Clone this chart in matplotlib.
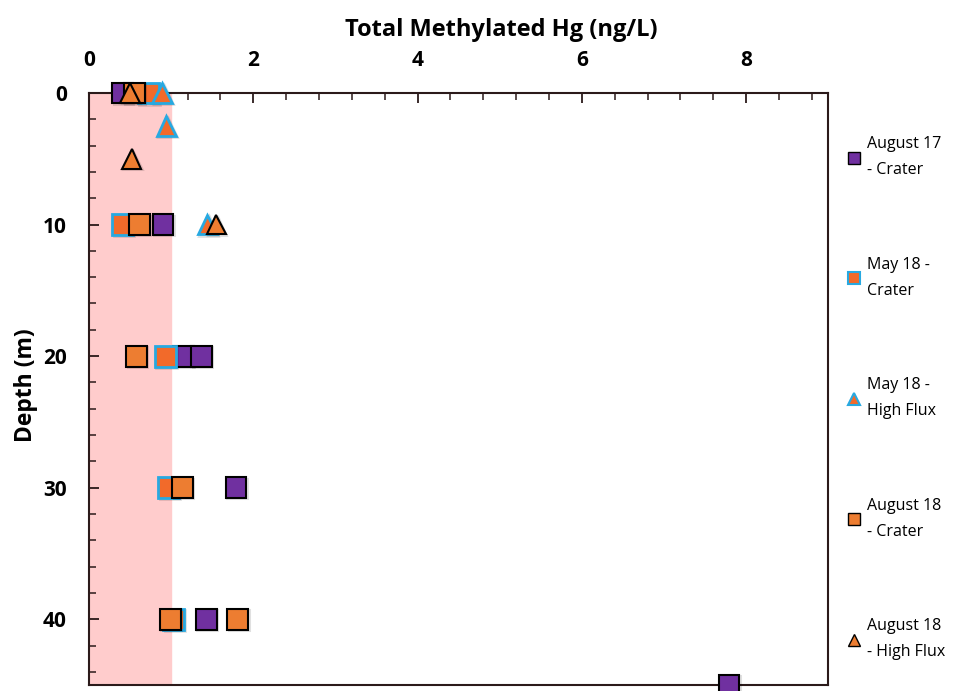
import matplotlib
matplotlib.use("Agg")
import matplotlib.pyplot as plt
from matplotlib.ticker import MultipleLocator
import matplotlib.patheffects as pe

plt.rcParams['font.family'] = ['Open Sans', 'DejaVu Sans']

# Data (x = Total Methylated Hg ng/L, y = depth m)
aug17_crater_x = [0.41, 0.90, 1.15, 1.37, 1.79, 1.43, 7.79]
aug17_crater_y = [0, 10, 20, 20, 30, 40, 45]

may18_crater_x = [0.72, 0.41, 0.93, 0.97, 1.03]
may18_crater_y = [0, 10, 20, 30, 40]

may18_hf_x = [0.89, 0.94, 1.44]
may18_hf_y = [0, 2.5, 10]

aug18_crater_x = [0.55, 0.61, 0.58, 1.14, 0.99, 1.81]
aug18_crater_y = [0, 10, 20, 30, 40, 40]

aug18_hf_x = [0.50, 0.52, 1.55]
aug18_hf_y = [0, 5, 10]

labels = ["August 17\n- Crater", "May 18 -\nCrater", "May 18 -\nHigh Flux",
          "August 18\n- Crater", "August 18\n- High Flux"]

x_ticks = [0, 2, 4, 6, 8]
y_ticks = [0, 10, 20, 30, 40]

purple = '#7030A0'
orange = '#ED7D31'
orange2 = '#F26A2A'
blue = '#27A9E1'
spine_c = '#2b1a1a'

fig = plt.figure(figsize=(9.54, 6.91), dpi=100)
ax = fig.add_axes([0.0933, 0.0087, 0.775, 0.8567])

ax.axvspan(0, 1, color='#FFCCCC', zorder=0)

shadow = [pe.SimpleLineShadow(offset=(1.0, -1.0), alpha=0.12), pe.Normal()]
ms_sq = 15
ms_tri = 14
h1, = ax.plot(aug17_crater_x, aug17_crater_y, 's', ms=ms_sq, mfc=purple, mec='black', mew=1.5,
              label=labels[0], clip_on=False, zorder=3, path_effects=shadow)
h4, = ax.plot(aug18_crater_x, aug18_crater_y, 's', ms=ms_sq, mfc=orange, mec='black', mew=1.5,
              label=labels[3], clip_on=False, zorder=4, path_effects=shadow)
h2, = ax.plot(may18_crater_x, may18_crater_y, 's', ms=ms_sq, mfc=orange2, mec=blue, mew=2,
              label=labels[1], clip_on=False, zorder=3.5, path_effects=shadow)
h3, = ax.plot(may18_hf_x, may18_hf_y, '^', ms=ms_tri, mfc=orange2, mec=blue, mew=2,
              label=labels[2], clip_on=False, zorder=5, path_effects=shadow)
h5, = ax.plot(aug18_hf_x, aug18_hf_y, '^', ms=ms_tri, mfc=orange, mec='black', mew=1.5,
              label=labels[4], clip_on=False, zorder=6, path_effects=shadow)

ax.set_xlim(0, 9)
ax.set_ylim(45, 0)
ax.xaxis.tick_top()
ax.xaxis.set_label_position('top')
ax.set_xticks(x_ticks)
ax.set_yticks(y_ticks)
ax.xaxis.set_minor_locator(MultipleLocator(0.4))
ax.yaxis.set_minor_locator(MultipleLocator(2))
ax.tick_params(axis='both', which='major', direction='in', length=7, width=1.3,
               colors=spine_c, labelcolor='black', labelsize=15)
ax.tick_params(axis='x', which='major', pad=16)
ax.tick_params(axis='y', which='major', pad=16)
ax.tick_params(axis='both', which='minor', direction='in', length=5, width=1.1, colors=spine_c)
ax.tick_params(axis='x', which='both', top=True, bottom=False)
ax.tick_params(axis='y', which='both', left=True, right=False)
for lab in ax.get_xticklabels() + ax.get_yticklabels():
    lab.set_fontweight('bold')
for s in ax.spines.values():
    s.set_color(spine_c)
    s.set_linewidth(1.5)

ax.set_xlabel('Total Methylated Hg (ng/L)', fontsize=17, fontweight='bold')
ax.xaxis.set_label_coords(0.5575, 1.096)
ax.set_ylabel('Depth (m)', fontsize=16.5, fontweight='bold')
ax.yaxis.set_label_coords(-0.069, 0.507)

leg_handles = [
    plt.Line2D([], [], ls='', marker='s', ms=8, mfc=purple, mec='black', mew=1),
    plt.Line2D([], [], ls='', marker='s', ms=8, mfc=orange2, mec=blue, mew=1.5),
    plt.Line2D([], [], ls='', marker='^', ms=8, mfc=orange2, mec=blue, mew=1.5),
    plt.Line2D([], [], ls='', marker='s', ms=8, mfc=orange, mec='black', mew=1),
    plt.Line2D([], [], ls='', marker='^', ms=8, mfc=orange, mec='black', mew=1),
]
leg = fig.legend(leg_handles, labels, loc='upper left', bbox_to_anchor=(0.882, 0.812),
                 frameon=False, fontsize=11.5, labelspacing=4.9, handlelength=0.8,
                 handletextpad=0.4, borderaxespad=0)
for t in leg.get_texts():
    t.set_linespacing(1.85)

fig.savefig('out.png', dpi=100)
